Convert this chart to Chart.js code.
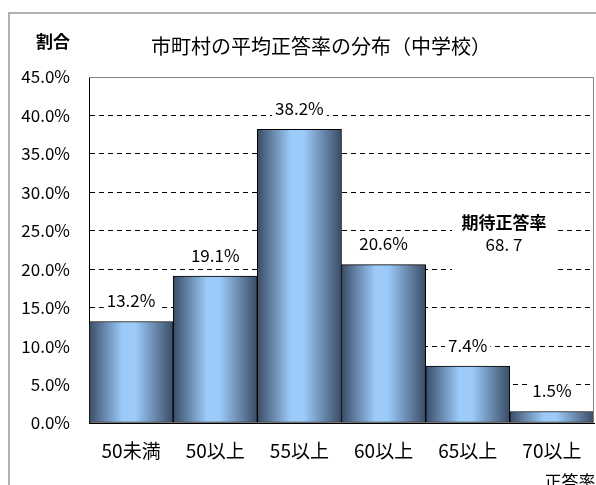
<!DOCTYPE html>
<html>
<head>
<meta charset="utf-8">
<script src="https://cdn.jsdelivr.net/npm/chart.js@4.4.1/dist/chart.umd.min.js"></script>
<style>
  html, body { margin: 0; padding: 0; background: #fff; }
  #wrap { width: 596px; height: 485px; }
</style>
</head>
<body>
<div id="wrap"><canvas id="myChart" width="596" height="485"></canvas></div>
<script>
const categories = ["50未満", "50以上", "55以上", "60以上", "65以上", "70以上"];
const shares = [13.2, 19.1, 38.2, 20.6, 7.4, 1.5];
const yTicks = [0, 5, 10, 15, 20, 25, 30, 35, 40, 45];
const titleText = "市町村の平均正答率の分布（中学校）";
const yTitle = "割合";
const xTitle = "正答率";
const noteLines = ["期待正答率", "68. 7"];

const jp = '"Noto Sans CJK JP", "Noto Sans", sans-serif';

// gradient per bar, dark edges and light middle
function barGradient(ctx) {
  const chart = ctx.chart;
  const x = chart.scales.x;
  if (!x || x.width === undefined) return "#8fb8e8";
  const w = x.width / categories.length;
  const cx = x.getPixelForValue(ctx.dataIndex);
  const g = chart.ctx.createLinearGradient(cx - w / 2, 0, cx + w / 2, 0);
  g.addColorStop(0, "#3a4c66");
  g.addColorStop(0.4, "#9ccbfa");
  g.addColorStop(0.55, "#9ccbfa");
  g.addColorStop(1, "#3a4c66");
  return g;
}

function whiteLabel(c, text, x, y, padX) {
  const w = c.measureText(text).width;
  c.fillStyle = "#fff";
  c.fillRect(x - w / 2 - padX, y - 9, w + padX * 2, 18);
  c.fillStyle = "#000";
  c.fillText(text, x, y);
}

const extras = {
  id: "extras",
  afterDatasetsDraw(chart) {
    const c = chart.ctx;
    const area = chart.chartArea;
    const xs = chart.scales.x;
    const ys = chart.scales.y;
    c.save();
    // plot border top and right
    c.strokeStyle = "#808080";
    c.lineWidth = 1;
    c.beginPath();
    c.moveTo(area.left, area.top + 0.5);
    c.lineTo(area.right - 0.5, area.top + 0.5);
    c.lineTo(area.right - 0.5, area.bottom);
    c.stroke();

    // value labels
    c.font = "17px " + jp;
    c.textAlign = "center";
    c.textBaseline = "middle";
    shares.forEach((v, i) => {
      const x = xs.getPixelForValue(i);
      const y = ys.getPixelForValue(v) - 21;
      whiteLabel(c, v.toFixed(1) + "%", x, y, 3);
    });

    // note box
    c.fillStyle = "#fff";
    c.fillRect(452, 203, 105, 70);
    c.fillStyle = "#000";
    c.font = "bold 17px " + jp;
    c.fillText(noteLines[0], 504, 223);
    c.font = "17px " + jp;
    c.fillText(noteLines[1], 504, 245);

    // outer frame
    c.strokeStyle = "#b0b0b0";
    c.lineWidth = 2;
    c.beginPath();
    c.moveTo(9, 485);
    c.lineTo(9, 13);
    c.lineTo(596, 13);
    c.stroke();

    // titles
    c.fillStyle = "#000";
    c.font = "20px " + jp;
    c.fillText(titleText, 321, 46);
    c.font = "bold 17px " + jp;
    c.fillText(yTitle, 53, 42);
    c.font = "17px " + jp;
    c.fillText(xTitle, 570, 482);
    c.restore();
  }
};

new Chart(document.getElementById("myChart"), {
  type: "bar",
  data: {
    labels: categories,
    datasets: [{
      data: shares,
      backgroundColor: barGradient,
      borderColor: "#000",
      borderWidth: 1,
      borderSkipped: false,
      barPercentage: 1,
      categoryPercentage: 1
    }]
  },
  options: {
    responsive: false,
    animation: false,
    devicePixelRatio: 1,
    layout: { padding: { left: 0, top: 77, right: 2, bottom: 0 } },
    plugins: {
      legend: { display: false },
      tooltip: { enabled: false },
      title: { display: false }
    },
    scales: {
      x: {
        grid: { display: false },
        border: { color: "#000", width: 1 },
        ticks: { color: "#000", font: { size: 19, family: jp }, padding: 8, maxRotation: 0 },
        afterFit(s) { s.height = 62; }
      },
      y: {
        min: 0,
        max: 45,
        afterBuildTicks(s) { s.ticks = yTicks.map(v => ({ value: v })); },
        grid: {
          color: (ctx) => (ctx.tick && ctx.tick.value === 45) ? "rgba(0,0,0,0)" : "#000",
          lineWidth: 1,
          drawTicks: false
        },
        border: { color: "#000", width: 1, dash: [5, 4] },
        ticks: {
          color: "#000",
          font: { size: 17, family: jp },
          padding: 19,
          callback: (v) => v.toFixed(1) + "%"
        },
        afterFit(s) { s.width = 89; }
      }
    }
  },
  plugins: [extras]
});
</script>
</body>
</html>
